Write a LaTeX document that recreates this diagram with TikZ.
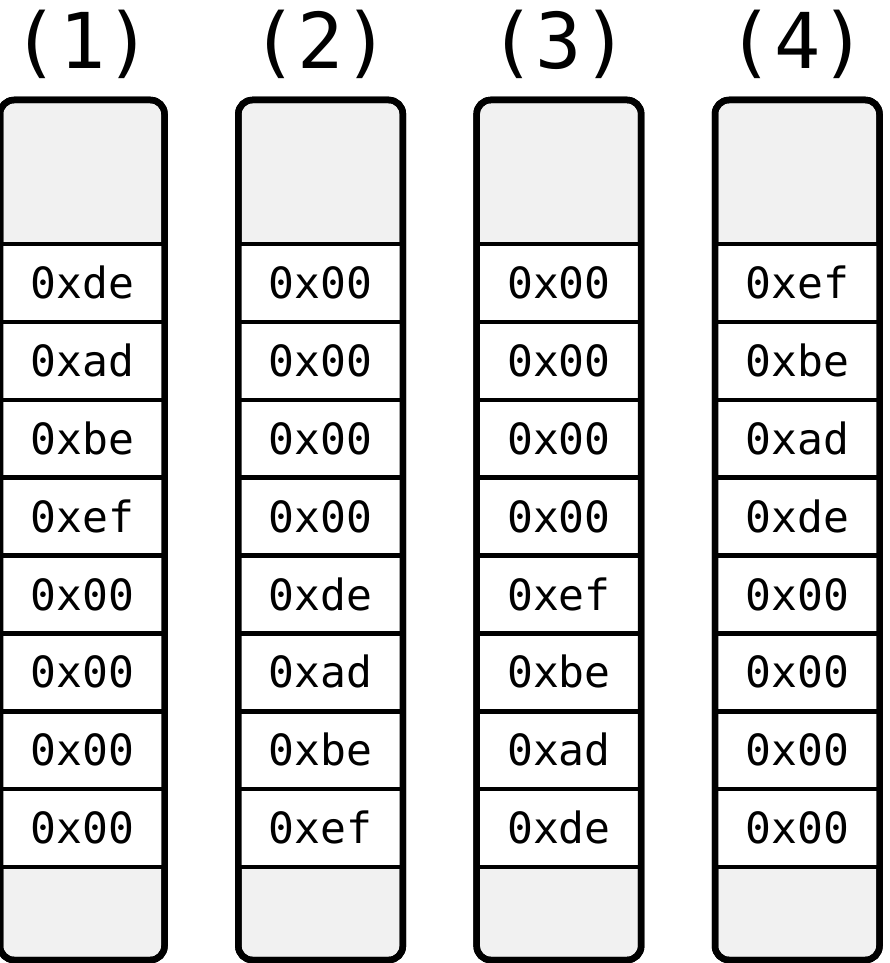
\documentclass[tikz,border=0pt]{standalone}
\usepackage{fontspec}
\newfontfamily\monofam{DejaVu Sans Mono}
\definecolor{boxgray}{RGB}{241,241,241}
\tikzset{
  colbox/.style={draw=black, fill=boxgray, line width=6.5pt, rounded corners=14pt,
    minimum width=164.5pt, minimum height=860pt, inner sep=0pt, outer sep=0pt},
  colframe/.style={draw=black, line width=6.5pt, rounded corners=14pt,
    minimum width=164.5pt, minimum height=860pt, inner sep=0pt, outer sep=0pt},
  cell/.style={draw=black, fill=white, line width=4.5pt, minimum width=164.5pt,
    minimum height=77.875pt, inner sep=0pt, outer sep=0pt,
    font=\monofam\fontsize{43}{43}\selectfont,
    text height=31.3pt, text depth=0pt},
  hdr/.style={inner sep=0pt, font=\monofam\fontsize{77}{77}\selectfont,
    text height=56.1pt, text depth=0pt}
}
\begin{document}
\begin{tikzpicture}[x=1pt,y=-1pt]
\useasboundingbox (0,0) rectangle (889,963);
\def\colw{164.5}
\foreach \i/\lab/\a/\b/\c/\d/\e/\f/\g/\h in {
  0/1/0xde/0xad/0xbe/0xef/0x00/0x00/0x00/0x00,
  1/2/0x00/0x00/0x00/0x00/0xde/0xad/0xbe/0xef,
  2/3/0x00/0x00/0x00/0x00/0xef/0xbe/0xad/0xde,
  3/4/0xef/0xbe/0xad/0xde/0x00/0x00/0x00/0x00}{
  \pgfmathsetmacro{\xl}{238.33*\i}
  \pgfmathsetmacro{\xc}{\xl+\colw/2}
  \node[colbox] (col\lab) at (\xc,530) {};
  \node[hdr] (hdr\lab) at (\xc,40) {(\lab)};
  \foreach \t [count=\k from 0] in {\a,\b,\c,\d,\e,\f,\g,\h}{
    \pgfmathsetmacro{\yc}{244+77.875*\k+77.875/2}
    \node[cell] (c\lab r\k) at (\xc,\yc) {\t};
  }
  \node[colframe] (frame\lab) at (\xc,530) {};
}
\end{tikzpicture}
\end{document}
